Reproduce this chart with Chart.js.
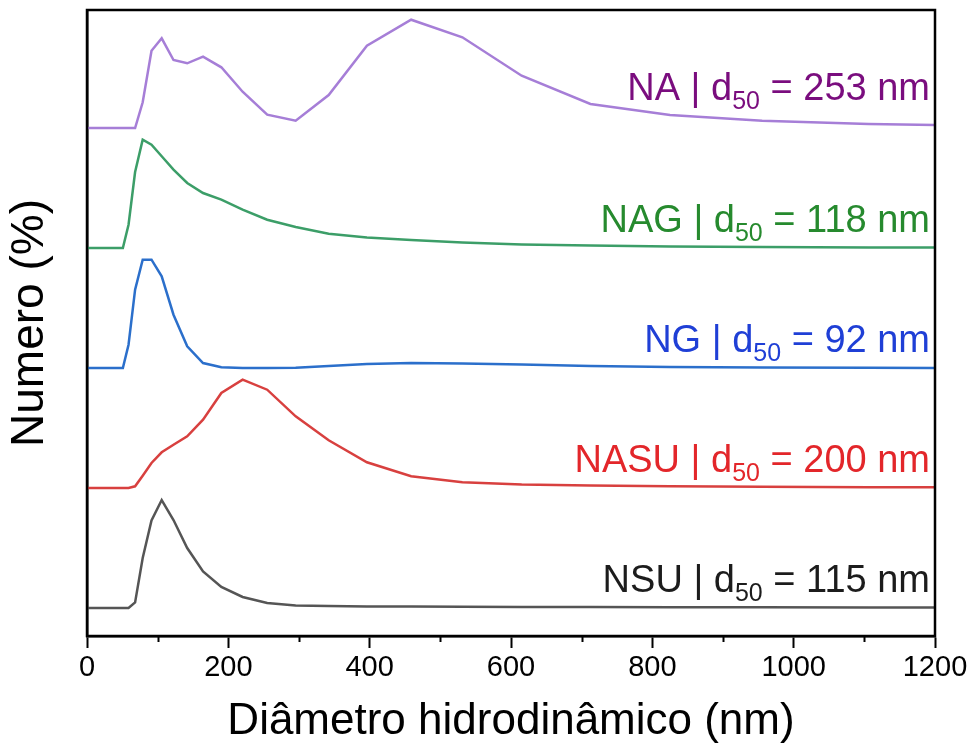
<!DOCTYPE html>
<html>
<head>
<meta charset="utf-8">
<script src="https://cdn.jsdelivr.net/npm/chart.js@4.4.1/dist/chart.umd.min.js"></script>
<style>
  html, body { margin: 0; padding: 0; background: #ffffff; }
  #wrap { width: 977px; height: 753px; }
</style>
</head>
<body>
<div id="wrap"><canvas id="c" width="977" height="753"></canvas></div>
<script>
// Hydrodynamic diameter bins (nm) shared by every sample
const sizes = [0.4, 50.75, 58.77, 68.06, 78.82, 91.28, 105.7, 122.4, 141.8, 164.2, 190.1, 220.2,
               255.0, 295.3, 342.0, 396.1, 458.7, 531.2, 615.1, 712.4, 825.0, 955.4, 1106, 1281];

// Number distribution (%) per sample
const nsuValues  = [0, 0, 0, 0.56, 5.0, 8.76, 10.8, 8.8, 6.0, 3.66, 2.1, 1.1,
                    0.5, 0.26, 0.2, 0.16, 0.14, 0.12, 0.1, 0.09, 0.08, 0.07, 0.06, 0.05];
const nasuValues = [0, 0, 0, 0.17, 1.23, 2.5, 3.57, 4.33, 5.17, 6.83, 9.5, 10.83,
                    9.83, 7.17, 4.77, 2.57, 1.17, 0.57, 0.35, 0.25, 0.18, 0.12, 0.08, 0.05];
const ngValues   = [0, 0, 2.33, 7.83, 10.83, 10.83, 9.17, 5.33, 2.17, 0.5, 0.07, 0,
                    0, 0.03, 0.2, 0.4, 0.5, 0.45, 0.35, 0.2, 0.1, 0.05, 0.02, 0];
const nagValues  = [0, 0, 2.33, 7.6, 10.83, 10.33, 9.17, 7.83, 6.5, 5.5, 4.83, 3.83,
                    2.83, 2.1, 1.43, 1.05, 0.8, 0.55, 0.35, 0.25, 0.15, 0.1, 0.05, 0.03];
const naValues   = [0, 0, 0, 0, 2.57, 7.73, 8.97, 6.8, 6.47, 7.13, 6.07, 3.63,
                    1.33, 0.73, 3.3, 8.23, 10.83, 9.07, 5.23, 2.4, 1.3, 0.73, 0.4, 0.2];

// Sample names, median diameters (nm) and vertical stacking offsets (%)
const sampleNames = ['NSU', 'NASU', 'NG', 'NAG', 'NA'];
const d50Values   = [115, 200, 92, 118, 253];
const offsets     = [0, 12, 24, 36, 48];
const xTicks      = [0, 200, 400, 600, 800, 1000, 1200];
const xMinorTicks = [100, 300, 500, 700, 900, 1100];

const seriesValues = [nsuValues, nasuValues, ngValues, nagValues, naValues];
const lineColors  = ['#555555', '#D8403F', '#2B6FCB', '#3C9E68', '#A67ED7'];
const labelColors = ['#1c1c1c', '#E3262A', '#1F3FD6', '#268A2E', '#7A0D7E'];

const datasets = seriesValues.map((vals, i) => ({
  label: sampleNames[i],
  data: sizes.map((s, k) => ({ x: s, y: vals[k] + offsets[i] })),
  borderColor: lineColors[i],
  borderWidth: 2.5,
  pointRadius: 0,
  tension: 0,
  fill: false
}));

const FONT = "'Liberation Sans', Arial, sans-serif";

// Frame, minor ticks and the per-sample labels with subscripted d50
const decorPlugin = {
  id: 'decor',
  afterDraw(chart) {
    const { ctx, chartArea: a, scales } = chart;
    const xs = scales.x, ys = scales.y;
    ctx.save();
    ctx.strokeStyle = '#000';
    ctx.lineWidth = 2.5;
    ctx.strokeRect(a.left, a.top, a.right - a.left, a.bottom - a.top);
    ctx.lineWidth = 2;
    xMinorTicks.forEach(v => {
      const px = Math.round(xs.getPixelForValue(v)) + 0.5;
      ctx.beginPath();
      ctx.moveTo(px, a.bottom);
      ctx.lineTo(px, a.bottom + 6);
      ctx.stroke();
    });

    const big = 38, small = 25;
    sampleNames.forEach((name, i) => {
      const lift = name === 'NA' ? 28 : 16;
      const yBase = ys.getPixelForValue(offsets[i]) - lift;
      const xRight = a.right - 5;
      const head = name + ' | d';
      const sub = '50';
      const tail = ' = ' + d50Values[i] + ' nm';
      ctx.fillStyle = labelColors[i];
      ctx.textBaseline = 'alphabetic';
      ctx.textAlign = 'left';
      ctx.font = big + 'px ' + FONT;
      const wHead = ctx.measureText(head).width;
      const wTail = ctx.measureText(tail).width;
      ctx.font = small + 'px ' + FONT;
      const wSub = ctx.measureText(sub).width;
      let x = xRight - wTail - wSub - wHead;
      ctx.font = big + 'px ' + FONT;
      ctx.fillText(head, x, yBase);
      x += wHead;
      ctx.font = small + 'px ' + FONT;
      ctx.fillText(sub, x, yBase + 9);
      x += wSub;
      ctx.font = big + 'px ' + FONT;
      ctx.fillText(tail, x, yBase);
    });
    ctx.restore();
  }
};

new Chart(document.getElementById('c'), {
  type: 'line',
  data: { datasets },
  options: {
    responsive: false,
    animation: false,
    devicePixelRatio: 1,
    layout: { padding: { top: 10, right: 42, bottom: 0, left: 0 } },
    plugins: { legend: { display: false }, tooltip: { enabled: false } },
    scales: {
      x: {
        type: 'linear',
        min: 0,
        max: 1200,
        afterBuildTicks: s => { s.ticks = xTicks.map(v => ({ value: v })); },
        afterFit: s => { s.height = 117; },
        ticks: { color: '#000', font: { family: FONT, size: 29 }, padding: 3, maxRotation: 0,
                 callback: v => String(v) },
        grid: { display: true, drawOnChartArea: false, drawTicks: true, tickLength: 12,
                tickWidth: 2, tickColor: '#000', color: '#000' },
        border: { display: true, color: '#000', width: 2.5 },
        title: { display: true, text: 'Diâmetro hidrodinâmico (nm)', color: '#000',
                 font: { family: FONT, size: 44 }, padding: { top: 0, bottom: 5 } }
      },
      y: {
        type: 'linear',
        min: -2.8,
        max: 59.8,
        afterFit: s => { s.width = 87; },
        ticks: { display: false },
        grid: { display: false },
        border: { display: true, color: '#000', width: 2.5 },
        title: { display: true, text: 'Numero (%)', color: '#000',
                 font: { family: FONT, size: 46 }, padding: { top: 3, bottom: 0 } }
      }
    }
  },
  plugins: [decorPlugin]
});
</script>
</body>
</html>
